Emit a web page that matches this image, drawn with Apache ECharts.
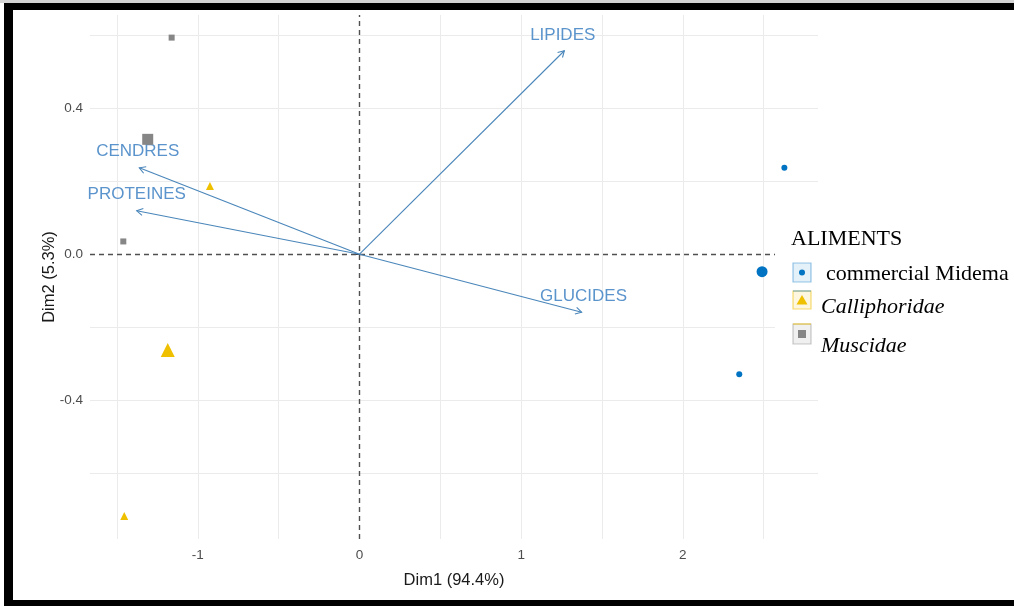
<!DOCTYPE html>
<html>
<head>
<meta charset="utf-8">
<script src="https://cdn.jsdelivr.net/npm/echarts@6/dist/echarts.min.js"></script>
<style>
html,body{margin:0;padding:0;background:#fff;}
#chart{width:1014px;height:606px;}
</style>
</head>
<body>
<div id="chart"></div>
<script>
// ---- data ----
const groupNames = ['commercial Midema', 'Calliphoridae', 'Muscidae'];
// individuals (small marks)
const midemaX = [2.628, 2.349];
const midemaY = [0.237, -0.329];
const calliX = [-0.925, -1.455];
const calliY = [0.187, -0.718];
const muscX = [-1.162, -1.461];
const muscY = [0.594, 0.035];
// group means (large marks)
const meanX = [2.490, -1.186, -1.310];
const meanY = [-0.048, -0.263, 0.315];
// variable arrows
const varNames = ['LIPIDES', 'GLUCIDES', 'CENDRES', 'PROTEINES'];
const varX = [1.267, 1.374, -1.362, -1.378];
const varY = [0.558, -0.159, 0.237, 0.119];
const varLabelX = [1.257, 1.386, -1.372, -1.378];
const varLabelY = [0.601, -0.115, 0.281, 0.164];
// axes
const xTicks = [-1, 0, 1, 2];
const yTicks = [-0.4, 0, 0.4];
const xGrid = [-1.5, -1, -0.5, 0.5, 1, 1.5, 2, 2.5];
const yGrid = [-0.6, -0.4, -0.2, 0.2, 0.4, 0.6];
const xTitle = 'Dim1 (94.4%)';
const yTitle = 'Dim2 (5.3%)';
const legendTitle = 'ALIMENTS';

const colors = ['#0073C2', '#EFC000', '#868686'];
const symbols = ['circle', 'triangle', 'rect'];
const smallSize = [6, 8, 6];
const bigSize = [11, 14, 11];
const arrowColor = '#4a86ba';
const labelColor = '#5b94cc';
const sans = '"Liberation Sans", Arial, sans-serif';
const serif = '"Liberation Serif", "Times New Roman", serif';

const indX = [midemaX, calliX, muscX];
const indY = [midemaY, calliY, muscY];

const chart = echarts.init(document.getElementById('chart'), null, {renderer: 'canvas'});

const series = [];
// grid lines
series.push({
  type: 'scatter', data: [], silent: true, z: 1,
  markLine: {
    z: 1, silent: true, symbol: ['none', 'none'], label: {show: false},
    lineStyle: {color: '#ebebeb', width: 1, type: 'solid'},
    emphasis: {disabled: true},
    data: xGrid.map(v => ({xAxis: v})).concat(yGrid.map(v => ({yAxis: v})))
  }
});
// zero dashed lines
series.push({
  type: 'scatter', data: [], silent: true, z: 2,
  markLine: {
    z: 2, silent: true, symbol: ['none', 'none'], label: {show: false},
    lineStyle: {color: '#505050', width: 1.4, type: [5, 4]},
    emphasis: {disabled: true},
    data: [{xAxis: 0}, {yAxis: 0}]
  }
});
// arrows
series.push({
  type: 'custom', z: 3, silent: true,
  data: varNames.map((n, i) => [varX[i], varY[i], varLabelX[i], varLabelY[i]]),
  renderItem: function (params, api) {
    const o = api.coord([0, 0]);
    const t = api.coord([api.value(0), api.value(1)]);
    const lc = api.coord([api.value(2), api.value(3)]);
    const ang = Math.atan2(t[1] - o[1], t[0] - o[0]);
    const L = 7, a = Math.PI / 6;
    const h1 = [t[0] - L * Math.cos(ang - a), t[1] - L * Math.sin(ang - a)];
    const h2 = [t[0] - L * Math.cos(ang + a), t[1] - L * Math.sin(ang + a)];
    return {
      type: 'group',
      children: [
        {type: 'line', shape: {x1: o[0], y1: o[1], x2: t[0], y2: t[1]},
         style: {stroke: arrowColor, lineWidth: 1.1}},
        {type: 'polyline', shape: {points: [h1, t, h2]},
         style: {stroke: arrowColor, fill: null, lineWidth: 1.1}},
        {type: 'text', x: lc[0], y: lc[1],
         style: {text: varNames[params.dataIndex], fill: labelColor,
                 font: '17px ' + sans, align: 'center', verticalAlign: 'middle'}}
      ]
    };
  }
});
// points
groupNames.forEach((g, k) => {
  series.push({
    name: g, type: 'scatter', z: 4, symbol: symbols[k],
    symbolSize: smallSize[k], itemStyle: {color: colors[k], opacity: 1},
    data: indX[k].map((x, i) => [x, indY[k][i]])
  });
  series.push({
    name: g, type: 'scatter', z: 4, symbol: symbols[k],
    symbolSize: bigSize[k], itemStyle: {color: colors[k], opacity: 1},
    data: [[meanX[k], meanY[k]]]
  });
});

// legend drawn as graphic
const legendGraphic = [];
legendGraphic.push({type: 'rect', z: 100, shape: {x: 775, y: 215, width: 239, height: 150}, style: {fill: '#fff'}});
legendGraphic.push({type: 'text', z: 101, x: 791, y: 239,
  style: {text: legendTitle, font: '22px ' + serif, fill: '#000', verticalAlign: 'middle'}});
const keyY = [263, 291, 324];
const keyH = [19, 18, 20];
const fills = ['rgba(0,115,194,0.10)', 'rgba(239,192,0,0.12)', 'rgba(134,134,134,0.12)'];
const strokes = ['rgba(0,115,194,0.40)', 'rgba(239,192,0,0.55)', 'rgba(134,134,134,0.45)'];
const textY = [274, 307, 346];
const textX = [826, 821, 821];
const textStyle = ['', 'italic ', 'italic '];
groupNames.forEach((g, k) => {
  legendGraphic.push({type: 'rect', z: 101,
    shape: {x: 793, y: keyY[k], width: 18, height: keyH[k]},
    style: {fill: fills[k], stroke: strokes[k], lineWidth: 1.2}});
  if (k > 0) {
    legendGraphic.push({type: 'line', z: 102,
      shape: {x1: 793, y1: keyY[k], x2: 811, y2: keyY[k]},
      style: {stroke: strokes[k - 1], lineWidth: 1.5}});
  }
  const cx = 802, cy = keyY[k] + keyH[k] / 2;
  if (k === 0) {
    legendGraphic.push({type: 'circle', z: 102, shape: {cx: cx, cy: cy, r: 3}, style: {fill: colors[0]}});
  } else if (k === 1) {
    legendGraphic.push({type: 'polygon', z: 102, shape: {points: [[cx, cy - 5], [cx + 5.5, cy + 4.5], [cx - 5.5, cy + 4.5]]}, style: {fill: colors[1]}});
  } else {
    legendGraphic.push({type: 'rect', z: 102, shape: {x: cx - 4, y: cy - 4, width: 8, height: 8}, style: {fill: colors[2]}});
  }
  legendGraphic.push({type: 'text', z: 102, x: textX[k], y: textY[k],
    style: {text: g, font: textStyle[k] + '22px ' + serif, fill: '#000', verticalAlign: 'middle'}});
});
// frame
legendGraphic.push({type: 'rect', z: 110, shape: {x: 0, y: 0, width: 1014, height: 3}, style: {fill: '#d4d4d4'}});
legendGraphic.push({type: 'rect', z: 111, shape: {x: 4, y: 3, width: 1010, height: 7}, style: {fill: '#000'}});
legendGraphic.push({type: 'rect', z: 111, shape: {x: 4, y: 3, width: 9, height: 603}, style: {fill: '#000'}});
legendGraphic.push({type: 'rect', z: 111, shape: {x: 4, y: 600, width: 1010, height: 6}, style: {fill: '#000'}});

const option = {
  backgroundColor: '#fff',
  animation: false,
  grid: {left: 90, right: 196, top: 15, bottom: 67, containLabel: false},
  xAxis: {
    type: 'value', min: -1.667, max: 2.836,
    splitLine: {show: false}, axisLine: {show: false},
    axisTick: {show: true, customValues: xTicks, length: 4, lineStyle: {color: '#333', width: 1}},
    axisLabel: {customValues: xTicks, margin: 9, color: '#4d4d4d', fontSize: 13.5, fontFamily: sans,
      formatter: v => String(v)},
    name: xTitle, nameLocation: 'middle', nameGap: 33, nameMoveOverlap: false,
    nameTextStyle: {color: '#1a1a1a', fontSize: 16.5, fontFamily: sans}
  },
  yAxis: {
    type: 'value', min: -0.781, max: 0.656,
    splitLine: {show: false}, axisLine: {show: false},
    axisTick: {show: true, customValues: yTicks, length: 4, lineStyle: {color: '#333', width: 1}},
    axisLabel: {customValues: yTicks, margin: 7, color: '#4d4d4d', fontSize: 13.5, fontFamily: sans,
      formatter: v => Number(v).toFixed(1)},
    name: yTitle, nameLocation: 'middle', nameGap: 32, nameRotate: 90, nameMoveOverlap: false,
    nameTextStyle: {color: '#1a1a1a', fontSize: 16.5, fontFamily: sans}
  },
  graphic: legendGraphic,
  series: series
};
chart.setOption(option);
</script>
</body>
</html>
